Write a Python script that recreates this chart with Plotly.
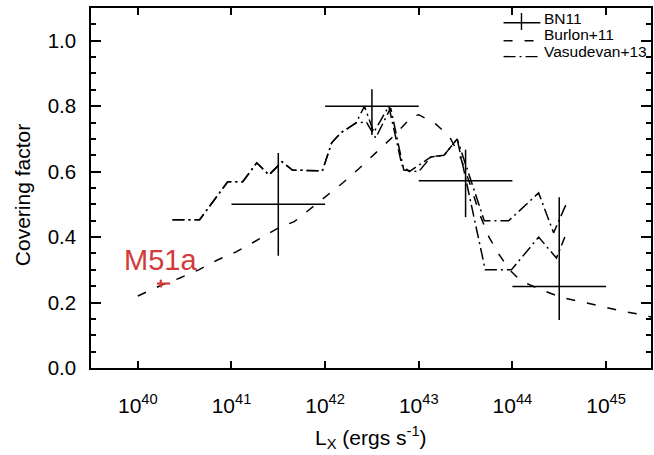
import plotly.graph_objects as go

# ---------------- data (log10 Lx, covering factor) ----------------
bn11_logL = [41.5, 42.5, 43.5, 44.5]
bn11_cf = [0.50, 0.80, 0.572, 0.249]
bn11_xerr = [0.5, 0.5, 0.5, 0.5]
bn11_cf_up = [0.157, 0.052, 0.095, 0.273]
bn11_cf_dn = [0.157, 0.088, 0.111, 0.102]

burlon_logL = [40.0, 40.26, 40.45, 40.65, 40.85, 41.05, 41.24, 41.5, 41.67, 41.83,
               42.01, 42.19, 42.36, 42.51, 42.71, 42.93, 43.0, 43.18, 43.33, 43.45,
               43.55, 43.65, 43.75, 43.85, 43.97, 44.09, 44.31, 44.51, 44.73, 44.95,
               45.17, 45.39, 45.48]
burlon_cf = [0.22, 0.254, 0.275, 0.30, 0.33, 0.355, 0.385, 0.428, 0.447, 0.483,
             0.526, 0.566, 0.609, 0.648, 0.703, 0.768, 0.774, 0.746, 0.706, 0.64,
             0.56, 0.47, 0.40, 0.35, 0.30, 0.266, 0.239, 0.217, 0.202, 0.187,
             0.174, 0.162, 0.156]

vas_a_logL = [40.37, 40.66, 40.96, 41.12, 41.27, 41.40, 41.54, 41.65, 41.97, 42.07,
              42.17, 42.33, 42.44, 42.54, 42.70, 42.84, 43.00, 43.13, 43.27, 43.41,
              43.70, 43.96, 44.28, 44.44, 44.57]
vas_a_cf = [0.453, 0.453, 0.569, 0.569, 0.627, 0.59, 0.63, 0.605, 0.602, 0.688,
            0.719, 0.749, 0.752, 0.703, 0.795, 0.605, 0.60, 0.645, 0.65, 0.70,
            0.45, 0.45, 0.535, 0.413, 0.498]

vas_b_logL = [40.37, 40.66, 40.96, 41.12, 41.27, 41.40, 41.54, 41.65, 41.97, 42.07,
              42.17, 42.33, 42.42, 42.52, 42.60, 42.68, 42.82, 42.90, 43.13, 43.27,
              43.41, 43.62, 43.71, 43.99, 44.28, 44.47, 44.56]
vas_b_cf = [0.453, 0.453, 0.569, 0.569, 0.627, 0.59, 0.63, 0.605, 0.602, 0.688,
            0.719, 0.749, 0.80, 0.72, 0.76, 0.80, 0.62, 0.60, 0.645, 0.65,
            0.70, 0.42, 0.30, 0.30, 0.40, 0.336, 0.40]

m51a_logL = [40.245]
m51a_cf = [0.258]
m51a_xerr_plus = [0.10]
m51a_xerr_minus = [0.04]
m51a_cf_err = [0.012]
m51a_label = "M51a"

x_tickvals = [40, 41, 42, 43, 44, 45]
x_ticktext = ["10<sup>%d</sup>" % v for v in x_tickvals]
y_tickvals = [0.0, 0.2, 0.4, 0.6, 0.8, 1.0]

legend_names = ["BN11", "Burlon+11", "Vasudevan+13"]

FONT = "Liberation Sans, Arial, Helvetica, sans-serif"
RED = "#d43a3a"

fig = go.Figure()

fig.add_trace(go.Scatter(
    x=burlon_logL, y=burlon_cf, mode="lines",
    line=dict(color="black", width=1.5, dash="9px,12px"), name=legend_names[1]))
fig.add_trace(go.Scatter(
    x=vas_a_logL, y=vas_a_cf, mode="lines",
    line=dict(color="black", width=1.5, dash="12px,4px,2px,4px"), name=legend_names[2]))
fig.add_trace(go.Scatter(
    x=vas_b_logL, y=vas_b_cf, mode="lines",
    line=dict(color="black", width=1.5, dash="12px,4px,2px,4px"), name=legend_names[2]))

fig.add_trace(go.Scatter(
    x=bn11_logL, y=bn11_cf, mode="markers",
    marker=dict(size=1, color="black", opacity=0),
    error_x=dict(type="data", array=bn11_xerr, color="black", thickness=1.5, width=0),
    error_y=dict(type="data", array=bn11_cf_up, arrayminus=bn11_cf_dn,
                 color="black", thickness=1.5, width=0),
    name=legend_names[0]))

fig.add_trace(go.Scatter(
    x=m51a_logL, y=m51a_cf, mode="markers",
    marker=dict(size=1, color=RED, opacity=0),
    error_x=dict(type="data", array=m51a_xerr_plus, arrayminus=m51a_xerr_minus,
                 color=RED, thickness=2.2, width=0),
    error_y=dict(type="data", array=m51a_cf_err, color=RED, thickness=2.2, width=0),
    name=m51a_label))

annotations = [
    dict(x=m51a_logL[0], y=m51a_cf[0], xref="x", yref="y", text=m51a_label,
         showarrow=False, font=dict(family=FONT, size=29, color=RED),
         xanchor="center", yanchor="middle", yshift=24),
    dict(x=0, y=0.48, xref="paper", yref="paper", text="Covering factor",
         textangle=-90, showarrow=False, font=dict(family=FONT, size=21, color="black"),
         xanchor="center", yanchor="middle", xshift=-69),
    dict(x=0.5, y=0, xref="paper", yref="paper",
         text="L<sub>X</sub> (ergs s<sup>-1</sup>)",
         showarrow=False, font=dict(family=FONT, size=21, color="black"),
         xanchor="center", yanchor="middle", yshift=-69),
]

# manual legend (paper coordinates)
leg_x0, leg_x1, leg_tx = 0.7367, 0.8025, 0.806
leg_line_y = [0.959, 0.909, 0.865]
leg_text_y = [0.970, 0.925, 0.880]
leg_dash = ["solid", "9px,12px", "12px,4px,2px,4px"]
shapes = []
for i, name in enumerate(legend_names):
    shapes.append(dict(type="line", xref="paper", yref="paper",
                       x0=leg_x0, x1=leg_x1, y0=leg_line_y[i], y1=leg_line_y[i],
                       line=dict(color="black", width=1.4, dash=leg_dash[i])))
    annotations.append(dict(x=leg_tx, y=leg_text_y[i], xref="paper", yref="paper",
                            text=name, showarrow=False, xanchor="left", yanchor="middle",
                            font=dict(family=FONT, size=15.5, color="black")))
shapes.append(dict(type="line", xref="paper", yref="paper",
                   x0=0.7687, x1=0.7687, y0=0.939, y1=0.986,
                   line=dict(color="black", width=1.4)))

fig.update_layout(
    width=654, height=455,
    margin=dict(l=91, r=1, t=8, b=87),
    plot_bgcolor="white", paper_bgcolor="white",
    showlegend=False,
    font=dict(family=FONT, color="black"),
    annotations=annotations, shapes=shapes,
)
fig.update_xaxes(
    range=[39.5, 45.48], tickvals=x_tickvals, ticktext=x_ticktext,
    ticks="inside", ticklen=7, tickwidth=1.5, tickcolor="black",
    showline=True, linewidth=1.5, linecolor="black", mirror="ticks",
    showgrid=False, zeroline=False, tickfont=dict(family=FONT, size=21),
    ticklabelstandoff=18,
)
fig.update_yaxes(
    range=[0, 1.1], tickvals=y_tickvals, tickformat=".1f",
    ticks="inside", ticklen=10, tickwidth=1.5, tickcolor="black",
    minor=dict(dtick=0.05, tick0=0, ticks="inside", ticklen=5, tickwidth=1.5, tickcolor="black"),
    showline=True, linewidth=1.5, linecolor="black", mirror="ticks",
    showgrid=False, zeroline=False, tickfont=dict(family=FONT, size=20.5),
    ticklabelstandoff=9,
)

fig.write_html(
    "out.html",
    config={"displayModeBar": False},
    post_script="document.body.style.margin='0';document.body.style.overflow='hidden';",
)
